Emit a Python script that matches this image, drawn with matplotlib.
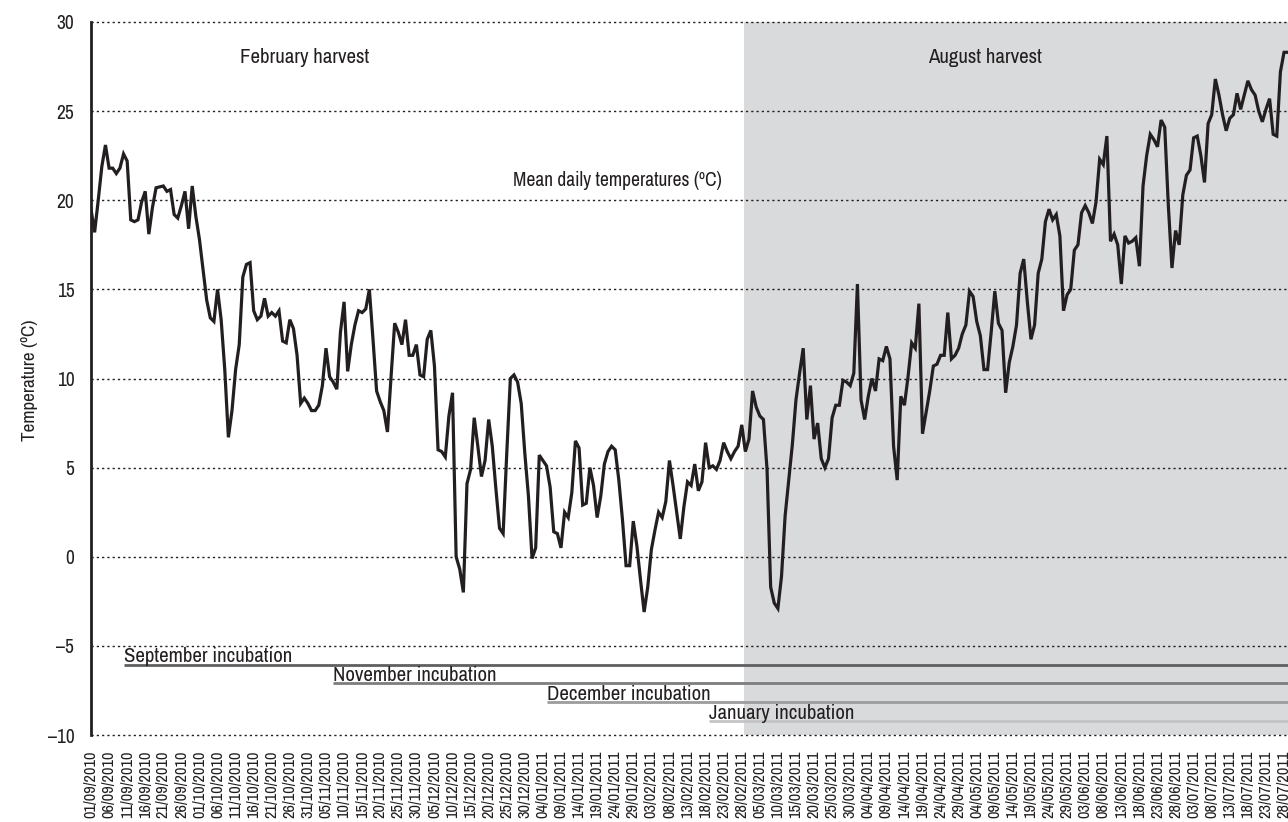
import matplotlib
matplotlib.use("Agg")
import matplotlib.pyplot as plt
from matplotlib import font_manager
import pandas as pd
import numpy as np

# ---------------- data ----------------
start_date = "2010-09-01"
temps = [
    # Sep 2010 (day 0-29)
    19.5, 18.2, 20.0, 21.9, 23.1, 21.8, 21.8, 21.5, 21.8, 22.6,
    22.2, 18.9, 18.8, 18.9, 19.9, 20.5, 18.1, 19.6, 20.7, 20.75,
    20.8, 20.5, 20.6, 19.2, 19.0, 19.7, 20.5, 18.4, 20.8, 19.1,
    # Oct 2010 (30-60)
    17.8, 16.1, 14.4, 13.4, 13.2, 15.0, 13.3, 10.5, 6.7, 8.2,
    10.5, 11.9, 15.7, 16.4, 16.5, 13.8, 13.3, 13.5, 14.5, 13.5,
    13.7, 13.5, 13.8, 12.1, 12.0, 13.3, 12.8, 11.3, 8.6, 8.9,
    8.6,
    # Nov 2010 (61-90)
    8.2, 8.2, 8.5, 9.6, 11.7, 10.1, 9.8, 9.4, 12.6, 14.3,
    10.4, 11.9, 13.0, 13.8, 13.7, 13.9, 15.0, 12.2, 9.3, 8.7,
    8.2, 7.0, 10.1, 13.1, 12.6, 11.9, 13.3, 11.3, 11.3, 11.9,
    # Dec 2010 (91-121)
    10.2, 10.1, 12.2, 12.7, 10.7, 6.0, 5.9, 5.6, 7.9, 9.2,
    0.0, -0.7, -2.0, 4.1, 4.9, 7.8, 6.2, 4.5, 5.4, 7.7,
    6.2, 3.8, 1.6, 1.3, 5.8, 10.0, 10.2, 9.8, 8.6, 5.8,
    3.4,
    # Jan 2011 (122-152)
    -0.1, 0.5, 5.7, 5.4, 5.1, 3.9, 1.4, 1.3, 0.5, 2.5,
    2.2, 3.6, 6.5, 6.1, 2.9, 3.0, 5.0, 4.0, 2.2, 3.4,
    5.2, 5.9, 6.2, 6.0, 4.3, 2.1, -0.5, -0.5, 2.0, 0.6,
    -1.3,
    # Feb 2011 (153-180)
    -3.1, -1.7, 0.4, 1.5, 2.5, 2.2, 3.1, 5.4, 4.0, 2.5,
    1.0, 2.8, 4.2, 4.0, 5.2, 3.7, 4.2, 6.4, 5.0, 5.1,
    4.9, 5.4, 6.4, 5.9, 5.5, 5.9, 6.2, 7.4,
    # Mar 2011 (181-211)
    5.9, 6.6, 9.3, 8.4, 7.9, 7.7, 4.9, -1.7, -2.6, -2.9,
    -1.1, 2.3, 4.3, 6.3, 8.8, 10.3, 11.7, 7.7, 9.6, 6.6,
    7.5, 5.5, 5.0, 5.5, 7.8, 8.5, 8.5, 9.9, 9.8, 9.6,
    10.3,
    # Apr 2011 (212-241)
    15.3, 8.8, 7.7, 9.0, 10.0, 9.3, 11.1, 11.0, 11.8, 11.1,
    6.2, 4.3, 9.0, 8.5, 10.1, 12.0, 11.7, 14.2, 6.9, 8.1,
    9.3, 10.7, 10.8, 11.3, 11.3, 13.7, 11.1, 11.3, 11.7, 12.5,
    # May 2011 (242-272)
    13.0, 14.9, 14.6, 13.2, 12.4, 10.5, 10.5, 12.6, 14.9, 13.1,
    12.7, 9.2, 10.9, 11.8, 13.0, 15.9, 16.7, 14.3, 12.2, 13.0,
    15.9, 16.7, 18.8, 19.5, 18.9, 19.2, 18.0, 13.8, 14.7, 15.0,
    17.2,
    # Jun 2011 (273-302)
    17.5, 19.3, 19.7, 19.3, 18.7, 19.9, 22.3, 22.0, 23.6, 17.7,
    18.1, 17.5, 15.3, 18.0, 17.6, 17.7, 17.9, 16.3, 20.8, 22.5,
    23.7, 23.4, 23.0, 24.5, 24.1, 19.7, 16.2, 18.3, 17.5, 20.3,
    # Jul 2011 (303-331)
    21.4, 21.7, 23.5, 23.6, 22.5, 21.0, 24.3, 24.8, 26.8, 25.9,
    24.8, 23.9, 24.6, 24.8, 26.0, 25.1, 25.9, 26.7, 26.2, 25.9,
    25.0, 24.4, 25.1, 25.7, 23.7, 23.6, 27.2, 28.3, 28.3,
]

incubation_labels = ["September incubation", "November incubation",
                     "December incubation", "January incubation"]
incubation_starts = ["2010-09-10", "2010-11-07", "2011-01-05", "2011-02-19"]
incubation_levels = [-6.05, -7.1, -8.15, -9.2]
incubation_colors = ["#5f5f61", "#7d7d80", "#9c9c9f", "#c4c4c7"]

august_start = "2011-03-01"
harvest_labels = ["February harvest", "August harvest"]
y_ticks = [30, 25, 20, 15, 10, 5, 0, -5, -10]

# ---------------- fonts ----------------
names = sorted({f.name for f in font_manager.fontManager.ttflist})
narrow = None
for n in names:
    if "Narrow" in n or "Condensed" in n:
        narrow = n
        break
if narrow is not None:
    base = narrow
    s_xt, s_ann, s_mean, s_inc, s_yt, s_lab = 11.8, 15, 14, 15, 14, 13.8
else:
    base = "Liberation Sans"
    s_xt, s_ann, s_mean, s_inc, s_yt, s_lab = 9.8, 12.6, 11.6, 12.7, 13.5, 12.5
plt.rcParams["font.family"] = [base, "DejaVu Sans"]

# ---------------- derived ----------------
dates = pd.date_range(start_date, periods=len(temps), freq="D")
days = np.arange(len(temps))
t0 = pd.Timestamp(start_date)

def day_of(d):
    return (pd.Timestamp(d) - t0).days

# ---------------- figure ----------------
W, H = 1288, 822
fig = plt.figure(figsize=(W / 100, H / 100), dpi=100)
ax = fig.add_axes([91 / W, (H - 735) / H, (W - 91) / W, (735 - 22) / H])

xmax = 331.1
ax.set_xlim(0, xmax)
ax.set_ylim(-10, 30)

# shaded August harvest region
ax.axvspan(day_of(august_start) - 0.3, xmax + 5, color="#d9dadc", lw=0, zorder=0)

# dotted grid lines
for yv in y_ticks:
    ax.axhline(yv, color="#231f20", lw=1.0, ls=(0, (1.6, 2.2)), zorder=1, clip_on=False)

# temperature line
ax.plot(days, temps, color="#231f20", lw=2.3, zorder=4, solid_joinstyle="miter")

# incubation lines
for lab, st, lev, col in zip(incubation_labels, incubation_starts, incubation_levels, incubation_colors):
    d = day_of(st)
    ax.hlines(lev, d, xmax + 5, color=col, lw=2.0, zorder=3)
    ax.text(d, lev + 0.12, lab, fontsize=s_inc, color="#231f20", ha="left", va="baseline", zorder=5)

# annotations
ax.text(59, 28.0, harvest_labels[0], fontsize=s_ann, ha="center", va="center", color="#231f20")
ax.text(247.3, 28.0, harvest_labels[1], fontsize=s_ann, ha="center", va="center", color="#231f20")
ax.text(145.5, 21.1, "Mean daily temperatures (ºC)", fontsize=s_mean, ha="center", va="center",
        color="#231f20")

# axes styling
for s in ["top", "right", "bottom"]:
    ax.spines[s].set_visible(False)
ax.spines["left"].set_linewidth(2.0)
ax.spines["left"].set_color("#231f20")

ax.set_yticks(y_ticks)
ax.set_yticklabels([str(v).replace("-", "\u2013") for v in y_ticks], fontsize=s_yt, color="#231f20")
ax.tick_params(axis="y", length=0, pad=12)

tick_days = days[::5]
ax.set_xticks(tick_days)
ax.set_xticklabels([dates[i].strftime("%d/%m/%Y") for i in tick_days], rotation=90, fontsize=s_xt,
                   color="#231f20")
ax.tick_params(axis="x", length=0, pad=11)

fig.text(30 / W, 1 - 380 / H, "Temperature (ºC)", rotation=90, ha="center", va="center",
         fontsize=s_lab, color="#231f20")

fig.savefig("out.png", dpi=100)
